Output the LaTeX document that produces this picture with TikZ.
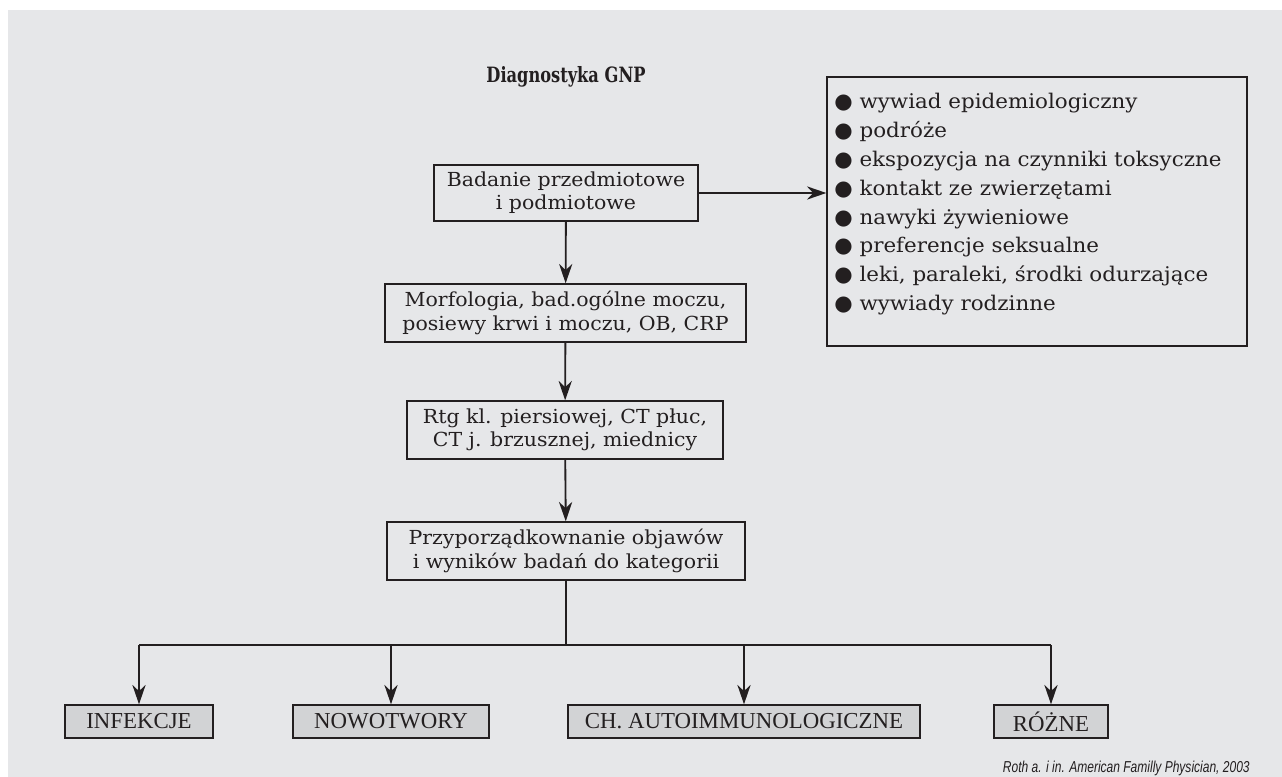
\documentclass[tikz,border=0pt]{standalone}
\usepackage{fontspec}
\setmainfont{DejaVu Serif}
\newfontfamily\bodyfont[FakeStretch=1.06]{DejaVu Serif}
\newfontfamily\titlefont[FakeStretch=0.77]{DejaVu Serif}
\newfontfamily\symfont{DejaVu Sans}
\newfontfamily\condfont{Liberation Serif}
\newfontfamily\citefont[FakeStretch=0.76]{Liberation Sans}
\usetikzlibrary{arrows.meta}
\definecolor{bg}{HTML}{E6E7E9}
\definecolor{catfill}{HTML}{D2D3D5}
\definecolor{ln}{HTML}{231F20}
\begin{document}
\begin{tikzpicture}[x=0.02cm,y=-0.02cm,
  box/.style={draw=ln,line width=0.8pt,align=center,inner sep=0pt,font=\bodyfont\fontsize{11}{13.2}\selectfont,text=ln},
  cat/.style={draw=ln,line width=0.8pt,fill=catfill,inner sep=0pt,minimum height=0.66cm,font=\condfont\fontsize{13}{15}\selectfont,text=ln},
  item/.style={anchor=base west,inner sep=0pt,text=ln,font=\bodyfont\fontsize{11.5}{14}\selectfont},
  arr/.style={draw=ln,line width=1.05pt,-{Stealth[length=11pt,width=7.5pt,inset=3.5pt]}},
  ln/.style={draw=ln,line width=1.05pt}]
\useasboundingbox (0,0) rectangle (1282,777);
\fill[bg] (8,10) rectangle (1282,777);
\node[font=\titlefont\bfseries\fontsize{12}{15}\selectfont,text=ln] (title) at (566,77) {Diagnostyka GNP};
\node[box,minimum width=5.28cm,minimum height=1.12cm] (b1) at (566,193) {Badanie przedmiotowe\\i podmiotowe};
\node[box,minimum width=7.22cm,minimum height=1.16cm] (b2) at (565.5,313) {Morfologia, bad.ogólne moczu,\\posiewy krwi i moczu, OB, CRP};
\node[box,minimum width=6.32cm,minimum height=1.16cm] (b3) at (565,430) {Rtg kl. piersiowej, CT płuc,\\CT j. brzusznej, miednicy};
\node[box,minimum width=7.16cm,minimum height=1.16cm] (b4) at (566,551) {Przyporządkownanie objawów\\i wyników badań do kategorii};
\node[draw=ln,line width=0.8pt,minimum width=8.4cm,minimum height=5.38cm,inner sep=0pt] (lst) at (1037,211.5) {};
\foreach \t [count=\i] in {wywiad epidemiologiczny,podróże,ekspozycja na czynniki toksyczne,kontakt ze zwierzętami,nawyki żywieniowe,preferencje seksualne,{leki, paraleki, środki odurzające},wywiady rodzinne}{
  \node[item] (it\i) at (834,{109+28.8*(\i-1)}) {{\symfont\fontsize{12}{14}\selectfont ●} \t};
}
\node[cat,minimum width=2.96cm] (c1) at (139,721.5) {INFEKCJE};
\node[cat,minimum width=3.92cm] (c2) at (391,721.5) {NOWOTWORY};
\node[cat,minimum width=7.04cm] (c3) at (744,721.5) {CH. AUTOIMMUNOLOGICZNE};
\node[cat,minimum width=2.28cm] (c4) at (1051,721.5) {RÓŻNE};
\node[anchor=base east,inner sep=0pt,font=\citefont\itshape\fontsize{9}{10}\selectfont,text=ln] (cite) at (1250,772) {Roth a. i in. American Familly Physician, 2003};
\draw[arr] (b1.east) -- (lst.west |- b1.east);
\draw[arr] (b1) -- (b2);
\draw[arr] (b2) -- (b3);
\draw[arr] (b3) -- (b4);
\coordinate (j) at (566,645);
\draw[ln] (b4.south) -- (j);
\draw[ln] (c1.north |- j) -- (c4.north |- j);
\draw[arr] (c1.north |- j) -- (c1.north);
\draw[arr] (c2.north |- j) -- (c2.north);
\draw[arr] (c3.north |- j) -- (c3.north);
\draw[arr] (c4.north |- j) -- (c4.north);
\end{tikzpicture}
\end{document}
